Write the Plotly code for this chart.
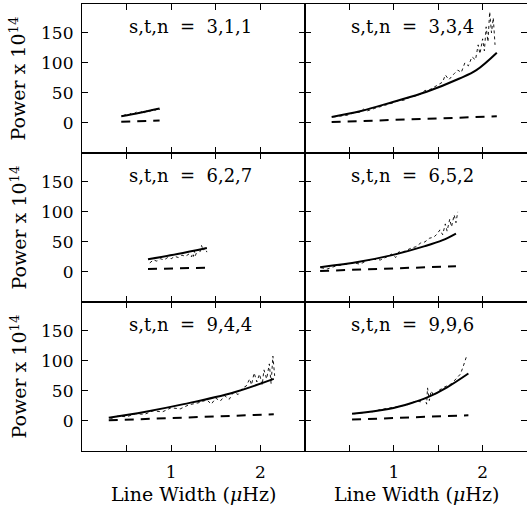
import plotly.graph_objects as go

FONT = "DejaVu Serif"

panel_labels = ["s,t,n  =  3,1,1", "s,t,n  =  3,3,4", "s,t,n  =  6,2,7",
                "s,t,n  =  6,5,2", "s,t,n  =  9,4,4", "s,t,n  =  9,9,6"]

# Panel 1: s,t,n = 3,1,1
fit_x1 = [0.44, 0.65, 0.87]
fit_y1 = [11, 17, 24]
base_x1 = [0.44, 0.87]
base_y1 = [2, 4]
obs_x1 = [0.46, 0.49, 0.52, 0.55, 0.58, 0.61, 0.64, 0.67, 0.70, 0.73, 0.76, 0.79, 0.82, 0.85, 0.87]
obs_y1 = [12, 14, 13, 16, 15, 18, 16, 19, 17, 21, 19, 23, 21, 25, 22]

# Panel 2: s,t,n = 3,3,4
fit_x2 = [0.30, 0.62, 0.99, 1.37, 1.74, 1.93, 2.16]
fit_y2 = [10, 19.5, 35, 52, 74, 88, 117]
base_x2 = [0.30, 2.16]
base_y2 = [1.5, 11]
obs_x2 = [0.32, 0.40, 0.48, 0.55, 0.62, 0.66, 0.70, 0.78, 0.85, 0.92, 0.98, 1.05, 1.12, 1.18,
          1.25, 1.30, 1.35, 1.40, 1.45, 1.50, 1.55, 1.58, 1.62, 1.68, 1.72, 1.76, 1.80, 1.84,
          1.88, 1.92, 1.95, 1.97, 2.00, 2.02, 2.04, 2.06, 2.08, 2.10, 2.12, 2.14]
obs_y2 = [10, 12, 13, 17, 18, 23, 20, 24, 27, 30, 33, 37, 38, 43,
          45, 48, 54, 55, 59, 64, 68, 80, 72, 82, 88, 84, 100, 95,
          110, 105, 130, 115, 140, 120, 160, 135, 185, 150, 175, 130]

# Panel 3: s,t,n = 6,2,7
fit_x3 = [0.74, 1.07, 1.40]
fit_y3 = [21, 30, 40]
base_x3 = [0.74, 1.40]
base_y3 = [5, 7]
obs_x3 = [0.76, 0.80, 0.84, 0.88, 0.92, 0.96, 1.00, 1.04, 1.08, 1.12, 1.16, 1.20, 1.23, 1.24,
          1.25, 1.26, 1.27, 1.28, 1.30, 1.32, 1.34, 1.36, 1.38, 1.40]
obs_y3 = [15, 20, 18, 22, 20, 24, 22, 26, 24, 28, 26, 30, 25, 36,
          26, 35, 27, 30, 38, 32, 44, 36, 40, 33]

# Panel 4: s,t,n = 6,5,2
fit_x4 = [0.17, 0.61, 0.98, 1.35, 1.55, 1.70]
fit_y4 = [8, 17, 28, 43, 53, 64]
base_x4 = [0.17, 1.70]
base_y4 = [1.7, 9.5]
obs_x4 = [0.18, 0.25, 0.35, 0.45, 0.55, 0.62, 0.70, 0.78, 0.85, 0.92, 0.98, 1.02, 1.06, 1.10,
          1.15, 1.20, 1.25, 1.30, 1.35, 1.40, 1.45, 1.48, 1.52, 1.55, 1.58, 1.60, 1.63, 1.65,
          1.68, 1.70, 1.72]
obs_y4 = [7, 5, 10, 12, 15, 13, 19, 21, 20, 25, 30, 24, 34, 33,
          37, 40, 42, 48, 50, 56, 58, 62, 70, 62, 80, 68, 88, 75,
          95, 82, 100]

# Panel 5: s,t,n = 9,4,4
fit_x5 = [0.30, 0.70, 1.14, 1.69, 2.15]
fit_y5 = [5.5, 15, 28, 47, 70]
base_x5 = [0.30, 2.15]
base_y5 = [1, 11]
obs_x5 = [0.32, 0.40, 0.50, 0.60, 0.70, 0.80, 0.90, 1.00, 1.10, 1.20, 1.30, 1.40, 1.45, 1.50,
          1.55, 1.60, 1.65, 1.70, 1.75, 1.80, 1.84, 1.88, 1.90, 1.93, 1.96, 1.99, 2.02, 2.04,
          2.07, 2.10, 2.12, 2.14, 2.16]
obs_y5 = [4, 8, 7, 12, 11, 17, 15, 22, 20, 27, 30, 35, 28, 38,
          33, 42, 36, 48, 44, 55, 58, 70, 60, 80, 65, 78, 60, 85,
          70, 95, 62, 108, 75]

# Panel 6: s,t,n = 9,9,6
fit_x6 = [0.53, 0.94, 1.20, 1.39, 1.60, 1.84]
fit_y6 = [12, 20, 30, 40, 56, 79]
base_x6 = [0.53, 1.84]
base_y6 = [2.3, 9.5]
obs_x6 = [0.55, 0.65, 0.75, 0.85, 0.95, 1.05, 1.15, 1.25, 1.30, 1.35, 1.37, 1.38, 1.40, 1.42,
          1.45, 1.50, 1.55, 1.60, 1.65, 1.70, 1.75, 1.78, 1.82]
obs_y6 = [12, 14, 15, 19, 21, 24, 27, 33, 32, 38, 28, 55, 34, 50,
          42, 50, 55, 58, 62, 70, 78, 90, 108]

x_tickvals = [1, 2]
x_minor_tickvals = [0.5, 1.5]
y_tickvals = [0, 50, 100, 150]

panels = [
    (fit_x1, fit_y1, base_x1, base_y1, obs_x1, obs_y1),
    (fit_x2, fit_y2, base_x2, base_y2, obs_x2, obs_y2),
    (fit_x3, fit_y3, base_x3, base_y3, obs_x3, obs_y3),
    (fit_x4, fit_y4, base_x4, base_y4, obs_x4, obs_y4),
    (fit_x5, fit_y5, base_x5, base_y5, obs_x5, obs_y5),
    (fit_x6, fit_y6, base_x6, base_y6, obs_x6, obs_y6),
]

W, H = 527, 510
ML, MR, MT, MB = 82, 0, 4, 59
pw = W - ML - MR
ph = H - MT - MB
xsplit = (305 - ML) / pw

fig = go.Figure()
layout = {}
for i, (fx, fy, bx, by, ox, oy) in enumerate(panels):
    row, col = i // 2, i % 2
    n = i + 1
    xa = "x" if n == 1 else f"x{n}"
    ya = "y" if n == 1 else f"y{n}"
    fig.add_trace(go.Scatter(x=ox, y=oy, xaxis=xa, yaxis=ya, mode="lines",
                             line=dict(color="black", width=0.9, dash="dot"),
                             showlegend=False, hoverinfo="skip"))
    fig.add_trace(go.Scatter(x=fx, y=fy, xaxis=xa, yaxis=ya, mode="lines",
                             line=dict(color="black", width=2, shape="spline"),
                             showlegend=False))
    fig.add_trace(go.Scatter(x=bx, y=by, xaxis=xa, yaxis=ya, mode="lines",
                             line=dict(color="black", width=2, dash="9px,7px"),
                             showlegend=False))
    xdom = [0, xsplit] if col == 0 else [xsplit, 1]
    ydom = [(2 - row) / 3, (3 - row) / 3]
    axcommon = dict(showline=True, linecolor="black", linewidth=1.2, mirror="ticks",
                    ticks="inside", ticklen=6, tickwidth=1, tickcolor="black",
                    showgrid=False, zeroline=False,
                    tickfont=dict(family=FONT, size=17, color="black"))
    xkey = "xaxis" if n == 1 else f"xaxis{n}"
    ykey = "yaxis" if n == 1 else f"yaxis{n}"
    layout[xkey] = dict(axcommon, domain=xdom, anchor=ya, range=[0, 2.5],
                        tickvals=x_tickvals,
                        minor=dict(tickvals=x_minor_tickvals, ticks="inside", ticklen=6,
                                   tickwidth=1, tickcolor="black", showgrid=False),
                        showticklabels=(row == 2), ticklabelstandoff=5)
    layout[ykey] = dict(axcommon, domain=ydom, anchor=xa, range=[-50, 198],
                        tickvals=y_tickvals,
                        showticklabels=(col == 0), ticklabelstandoff=4)
    fig.add_annotation(text=panel_labels[i], xref=f"{xa} domain", yref=f"{ya} domain",
                       x=0.485, y=0.846, xanchor="center", yanchor="middle",
                       showarrow=False, font=dict(family=FONT, size=18, color="black"))

for row in range(3):
    yc = (2.5 - row) / 3
    fig.add_annotation(text="Power x 10<sup>14</sup>", xref="paper", yref="paper",
                       x=(18 - ML) / pw, y=yc, xanchor="center", yanchor="middle",
                       textangle=-90, showarrow=False,
                       font=dict(family=FONT, size=19, color="black"))
for col in range(2):
    xc = xsplit / 2 if col == 0 else (xsplit + 1) / 2
    fig.add_annotation(text="Line Width (<i>μ</i>Hz)", xref="paper", yref="paper",
                       x=xc, y=(451 - 494) / ph, xanchor="center", yanchor="middle",
                       showarrow=False, font=dict(family=FONT, size=19, color="black"))

fig.update_layout(width=W, height=H, margin=dict(l=ML, r=MR, t=MT, b=MB),
                  plot_bgcolor="white", paper_bgcolor="white", **layout)
fig.write_html("out.html")
